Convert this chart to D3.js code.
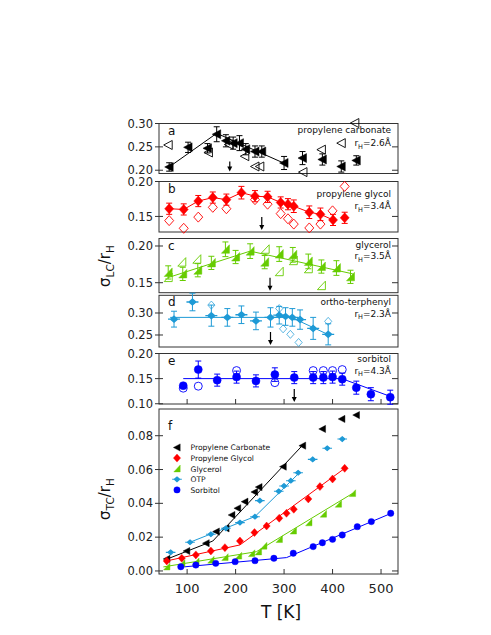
<!DOCTYPE html>
<html>
<head>
<meta charset="utf-8">
<script src="https://cdn.jsdelivr.net/npm/d3@7"></script>
<style>
  body { margin: 0; background: #fff; }
  text { font-family: "DejaVu Sans", sans-serif; }
</style>
</head>
<body>
<script>
// ---- data ----
var xTicks = [100, 200, 300, 400, 500];
var ticksA = [0.20, 0.25, 0.30];
var ticksB = [0.15, 0.20];
var ticksC = [0.15, 0.20];
var ticksD = [0.25, 0.30];
var ticksE = [0.10, 0.15, 0.20];
var ticksF = [0.00, 0.02, 0.04, 0.06, 0.08];

// a: propylene carbonate
var pcT     = [63, 102, 142, 161, 180, 195, 208, 221, 240, 254, 300, 338, 379, 418, 449];
var pcLC    = [0.207, 0.249, 0.247, 0.277, 0.263, 0.258, 0.258, 0.245, 0.240, 0.240, 0.2155, 0.226, 0.223, 0.208, 0.221];
var pcErr   = [0.009, 0.011, 0.010, 0.016, 0.013, 0.013, 0.016, 0.012, 0.012, 0.012, 0.014, 0.014, 0.012, 0.012, 0.010];
var pcOpenT = [61, 144, 186, 219, 240, 250, 339, 377, 418, 446];
var pcOpen  = [0.254, 0.238, 0.255, 0.230, 0.208, 0.208, 0.196, 0.244, 0.258, 0.301];
var pcFitT  = [63, 161, 300];
var pcFit   = [0.207, 0.279, 0.215];

// b: propylene glycol
var pgT     = [63, 93, 123, 153, 181, 212, 240, 266, 293, 308, 320, 352, 375, 401, 425];
var pgLC    = [0.161, 0.160, 0.172, 0.177, 0.174, 0.184, 0.179, 0.178, 0.170, 0.1675, 0.1646, 0.156, 0.153, 0.145, 0.148];
var pgErr   = [0.008, 0.008, 0.008, 0.008, 0.008, 0.009, 0.008, 0.008, 0.008, 0.008, 0.009, 0.009, 0.009, 0.008, 0.008];
var pgOpenT = [63, 93, 123, 153, 181, 240, 266, 293, 308, 320, 352, 375, 400, 425];
var pgOpen  = [0.144, 0.133, 0.149, 0.163, 0.161, 0.174, 0.1675, 0.154, 0.1466, 0.139, 0.1335, 0.139, 0.158, 0.193];
var pgFitT  = [63, 93, 123, 153, 181, 212, 240, 266, 293, 308, 320, 352, 375, 401];
var pgFit   = [0.161, 0.160, 0.172, 0.177, 0.174, 0.184, 0.179, 0.178, 0.170, 0.1675, 0.1646, 0.156, 0.153, 0.145];

// c: glycerol
var glT     = [61, 91, 122, 150, 179, 200, 230, 260, 290, 318, 350, 377, 408, 437];
var glLC    = [0.164, 0.162, 0.167, 0.177, 0.1955, 0.185, 0.193, 0.178, 0.189, 0.188, 0.179, 0.172, 0.170, 0.158];
var glErr   = [0.009, 0.009, 0.009, 0.009, 0.010, 0.009, 0.010, 0.009, 0.010, 0.010, 0.010, 0.009, 0.010, 0.009];
var glOpenT = [61, 89, 120, 261, 290, 319, 350, 377];
var glOpen  = [0.157, 0.178, 0.182, 0.1955, 0.165, 0.180, 0.169, 0.146];
var glFitT  = [61, 230, 442];
var glFit   = [0.157, 0.193, 0.162];

// d: ortho-terphenyl
var otpT     = [73, 111, 150, 183, 212, 242, 272, 290, 303, 317, 333, 360, 391];
var otpLC    = [0.286, 0.325, 0.294, 0.290, 0.296, 0.282, 0.290, 0.295, 0.292, 0.290, 0.285, 0.265, 0.2515];
var otpErr   = [0.018, 0.020, 0.024, 0.020, 0.020, 0.020, 0.022, 0.020, 0.020, 0.020, 0.022, 0.025, 0.024];
var otpOpenT = [150, 290, 298, 313, 330, 391];
var otpOpen  = [0.318, 0.310, 0.264, 0.2515, 0.233, 0.281];
var otpFitT  = [65, 315, 391];
var otpFit   = [0.290, 0.290, 0.251];

// e: sorbitol
var sbT     = [92, 123, 162, 202, 242, 281, 321, 360, 381, 400, 420, 449, 479, 519];
var sbLC    = [0.136, 0.168, 0.147, 0.153, 0.1455, 0.158, 0.152, 0.152, 0.152, 0.153, 0.149, 0.132, 0.119, 0.113];
var sbErr   = [0.004, 0.017, 0.012, 0.012, 0.012, 0.0135, 0.012, 0.012, 0.012, 0.012, 0.012, 0.013, 0.013, 0.014];
var sbOpenT = [92, 123, 202, 281, 360, 381, 400, 420];
var sbOpen  = [0.131, 0.135, 0.166, 0.142, 0.166, 0.166, 0.166, 0.168];
var sbFitT  = [92, 419, 521];
var sbFit   = [0.150, 0.150, 0.114];

// arrows (T) for panels a-e
var arrowT = [188, 254, 271, 272, 321];

// f: sigma_TC / r_H
var tcPcT  = [58, 99, 139, 160, 180, 192, 204, 219, 239, 248, 298, 338, 379, 419, 449];
var tcPc   = [0.0071, 0.0118, 0.0164, 0.0233, 0.0252, 0.0331, 0.0371, 0.0410, 0.0467, 0.0496, 0.0617, 0.0741, 0.0840, 0.0899, 0.0922];
var tcPgT  = [58, 89, 118, 149, 178, 209, 239, 264, 290, 305, 320, 350, 374, 400, 425];
var tcPg   = [0.0059, 0.0075, 0.0095, 0.0118, 0.0138, 0.0177, 0.0227, 0.0266, 0.0312, 0.0341, 0.0365, 0.0426, 0.0499, 0.0544, 0.0607];
var tcGlT  = [58, 89, 118, 149, 178, 206, 233, 247, 258, 290, 319, 351, 381, 412, 441];
var tcGl   = [0.0025, 0.0045, 0.0055, 0.0065, 0.0081, 0.0089, 0.0104, 0.0114, 0.0148, 0.0187, 0.0237, 0.0286, 0.0337, 0.0396, 0.0459];
var tcOtpT = [66, 106, 149, 180, 209, 240, 250, 289, 300, 314, 329, 359, 389, 420];
var tcOtp  = [0.0110, 0.0170, 0.0217, 0.0252, 0.0286, 0.0321, 0.0416, 0.0471, 0.0503, 0.0534, 0.0581, 0.0660, 0.0726, 0.0780];
var tcSbT  = [87, 118, 159, 199, 240, 279, 319, 360, 379, 400, 420, 451, 480, 520];
var tcSb   = [0.0025, 0.0035, 0.0045, 0.0055, 0.0061, 0.0075, 0.0105, 0.0144, 0.0167, 0.0187, 0.0213, 0.0262, 0.0292, 0.0341];

var tcPcFitT  = [54, 153, 338];   var tcPcFit  = [0.0065, 0.0177, 0.0743];
var tcPgFitT  = [54, 209, 427];   var tcPgFit  = [0.0057, 0.0154, 0.0611];
var tcGlFitT  = [51, 243, 442];   var tcGlFit  = [0.0024, 0.0114, 0.0460];
var tcOtpFitT = [106, 240, 333];  var tcOtpFit = [0.0170, 0.0322, 0.0585];
var tcSbFitT  = [85, 305, 521];   var tcSbFit  = [0.0022, 0.0079, 0.0341];

var legendNames = ['Propylene Carbonate', 'Propylene Glycol', 'Glycerol', 'OTP', 'Sorbitol'];

// ---- colours / shapes ----
var cPC = '#000000', cPG = '#ff0000', cGL = '#66cc00', cOTP = '#1e9ad6', cSB = '#0000ff';

var shapes = {
  triL:    'M4,-4.5L-4.5,0L4,4.5Z',
  diamond: 'M0,-5L4.5,0L0,5L-4.5,0Z',
  rtri:    'M4,-4.5L4,4L-4,4Z',
  otp:     'M-6,0L6,0M0,-3L3.5,0L0,3L-3.5,0Z',
  circle:  'M4,0A4,4 0 1,1 -4,0A4,4 0 1,1 4,0Z'
};

var x = d3.scaleLinear().domain([42, 535]).range([159, 398]);
var fmt = d3.format('.2f');

var svg = d3.select('body').append('svg')
  .attr('width', 491)
  .attr('height', 635);

function zip(a, b) {
  return a.map(function(d, i) { return [d, b[i]]; });
}

function drawLine(g, y, ts, vs, color) {
  g.append('path')
   .datum(zip(ts, vs))
   .attr('fill', 'none')
   .attr('stroke', color)
   .attr('stroke-width', 1)
   .attr('d', d3.line().x(function(d) { return x(d[0]); }).y(function(d) { return y(d[1]); }));
}

function drawErr(g, y, ts, vs, es, color) {
  var eg = g.append('g').attr('stroke', color).attr('stroke-width', 1);
  zip(ts, vs).forEach(function(d, i) {
    var cx = x(d[0]), y1 = y(d[1] - es[i]), y2 = y(d[1] + es[i]);
    eg.append('line').attr('x1', cx).attr('x2', cx).attr('y1', y1).attr('y2', y2);
    eg.append('line').attr('x1', cx - 3).attr('x2', cx + 3).attr('y1', y1).attr('y2', y1);
    eg.append('line').attr('x1', cx - 3).attr('x2', cx + 3).attr('y1', y2).attr('y2', y2);
  });
}

function drawMarks(g, y, ts, vs, shape, color, filled, sc) {
  sc = sc || 1;
  g.selectAll(null)
   .data(zip(ts, vs))
   .enter()
   .append('path')
   .attr('transform', function(d) { return 'translate(' + x(d[0]) + ',' + y(d[1]) + ') scale(' + sc + ')'; })
   .attr('d', shapes[shape])
   .attr('fill', filled ? color : 'none')
   .attr('stroke', color)
   .attr('stroke-width', filled ? (shape == 'otp' ? 1.3 : 0.5) : 0.9);
}

// panel layout: frame top/bottom in px, y domain
var panels = [
  { letter: 'a', top: 123.5, bottom: 173.5, dom: [0.193, 0.30],    ticks: ticksA, name: 'propylene carbonate', rh: '=2.6Å', n1: 9.5,  n2: 22.5 },
  { letter: 'b', top: 181.5, bottom: 232,   dom: [0.1277, 0.20],   ticks: ticksB, name: 'propylene glycol',    rh: '=3.4Å', n1: 15.5, n2: 27.5 },
  { letter: 'c', top: 238.5, bottom: 292.7, dom: [0.1364, 0.2102], ticks: ticksC, name: 'glycerol',            rh: '=3.5Å', n1: 9,    n2: 20.5 },
  { letter: 'd', top: 295.3, bottom: 347,   dom: [0.2227, 0.3402], ticks: ticksD, name: 'ortho-terphenyl',     rh: '=2.3Å', n1: 10,   n2: 21.5 },
  { letter: 'e', top: 353.5, bottom: 404,   dom: [0.0995, 0.20],   ticks: ticksE, name: 'sorbitol',            rh: '=4.3Å', n1: 8.5,  n2: 20 },
  { letter: 'f', top: 409,   bottom: 574,   dom: [-0.0018, 0.0958], ticks: ticksF }
];

panels.forEach(function(p, pi) {
  var y = d3.scaleLinear().domain(p.dom).range([p.bottom, p.top]);
  p.y = y;
  var g = svg.append('g');
  p.g = g;

  // frame
  g.append('rect')
   .attr('x', 159).attr('y', p.top)
   .attr('width', 398 - 159).attr('height', p.bottom - p.top)
   .attr('fill', 'none').attr('stroke', '#333').attr('stroke-width', 1);

  // y ticks left (crossing) + mirror right (inside)
  p.ticks.forEach(function(t) {
    var ty = y(t);
    g.append('line').attr('x1', 155).attr('x2', 163).attr('y1', ty).attr('y2', ty).attr('stroke', '#333');
    g.append('line').attr('x1', 392).attr('x2', 398).attr('y1', ty).attr('y2', ty).attr('stroke', '#333');
    g.append('text')
     .attr('x', 153).attr('y', ty).attr('dy', '0.36em')
     .attr('text-anchor', 'end')
     .attr('font-size', 11.5).attr('fill', '#222')
     .text(fmt(t));
  });

  // x ticks on e and f bottoms
  if (pi >= 4) {
    xTicks.forEach(function(t) {
      g.append('line').attr('x1', x(t)).attr('x2', x(t))
       .attr('y1', p.bottom).attr('y2', p.bottom - 5).attr('stroke', '#333');
    });
  }

  // panel letter
  g.append('text')
   .attr('x', 168).attr('y', p.top + (pi == 5 ? 21 : 11) )
   .attr('font-size', 12).attr('fill', '#111')
   .text(p.letter);

  if (p.name) {
    g.append('text')
     .attr('x', 391).attr('y', p.top + p.n1)
     .attr('text-anchor', 'end').attr('font-size', 9).attr('fill', '#111')
     .text(p.name);
    var rt = g.append('text')
     .attr('x', 391).attr('y', p.top + p.n2)
     .attr('text-anchor', 'end').attr('font-size', 9).attr('fill', '#111');
    rt.append('tspan').text('r');
    rt.append('tspan').attr('dy', 2.5).attr('font-size', 6.5).text('H');
    rt.append('tspan').attr('dy', -2.5).text(p.rh);

    // arrow
    var ax = x(arrowT[pi]);
    var ay2 = p.bottom - 2, ay1 = p.bottom - (pi == 0 ? 12 : 15);
    g.append('line').attr('x1', ax).attr('x2', ax).attr('y1', ay1).attr('y2', ay2 - 3)
     .attr('stroke', '#000').attr('stroke-width', 1.2);
    g.append('path')
     .attr('d', 'M' + (ax - 2.5) + ',' + (ay2 - 5) + 'L' + (ax + 2.5) + ',' + (ay2 - 5) + 'L' + ax + ',' + ay2 + 'Z')
     .attr('fill', '#000');
  }
});

// panel a
(function() {
  var p = panels[0];
  drawMarks(p.g, p.y, pcOpenT, pcOpen, 'triL', cPC, false);
  drawLine(p.g, p.y, pcFitT, pcFit, cPC);
  drawErr(p.g, p.y, pcT, pcLC, pcErr, cPC);
  drawMarks(p.g, p.y, pcT, pcLC, 'triL', cPC, true);
})();

// panel b
(function() {
  var p = panels[1];
  drawMarks(p.g, p.y, pgOpenT, pgOpen, 'diamond', cPG, false);
  drawLine(p.g, p.y, pgFitT, pgFit, cPG);
  drawErr(p.g, p.y, pgT, pgLC, pgErr, cPG);
  drawMarks(p.g, p.y, pgT, pgLC, 'diamond', cPG, true);
})();

// panel c
(function() {
  var p = panels[2];
  drawMarks(p.g, p.y, glOpenT, glOpen, 'rtri', cGL, false);
  drawLine(p.g, p.y, glFitT, glFit, cGL);
  drawErr(p.g, p.y, glT, glLC, glErr, cGL);
  drawMarks(p.g, p.y, glT, glLC, 'rtri', cGL, true);
})();

// panel d
(function() {
  var p = panels[3];
  drawMarks(p.g, p.y, otpOpenT, otpOpen, 'diamond', cOTP, false, 0.8);
  drawLine(p.g, p.y, otpFitT, otpFit, cOTP);
  drawErr(p.g, p.y, otpT, otpLC, otpErr, cOTP);
  drawMarks(p.g, p.y, otpT, otpLC, 'otp', cOTP, true);
})();

// panel e
(function() {
  var p = panels[4];
  drawMarks(p.g, p.y, sbOpenT, sbOpen, 'circle', cSB, false);
  drawLine(p.g, p.y, sbFitT, sbFit, cSB);
  drawErr(p.g, p.y, sbT, sbLC, sbErr, cSB);
  drawMarks(p.g, p.y, sbT, sbLC, 'circle', cSB, true);
})();

// panel f
(function() {
  var p = panels[5];
  var fy = p.y, s = 0.8;
  drawLine(p.g, fy, tcPcFitT, tcPcFit, cPC);
  drawLine(p.g, fy, tcPgFitT, tcPgFit, cPG);
  drawLine(p.g, fy, tcGlFitT, tcGlFit, cGL);
  drawLine(p.g, fy, tcOtpFitT, tcOtpFit, cOTP);
  drawLine(p.g, fy, tcSbFitT, tcSbFit, cSB);
  drawMarks(p.g, fy, tcPcT, tcPc, 'triL', cPC, true, s);
  drawMarks(p.g, fy, tcPgT, tcPg, 'diamond', cPG, true, s);
  drawMarks(p.g, fy, tcGlT, tcGl, 'rtri', cGL, true, s);
  drawMarks(p.g, fy, tcOtpT, tcOtp, 'otp', cOTP, true, s);
  drawMarks(p.g, fy, tcSbT, tcSb, 'circle', cSB, true, s);

  var legShapes = ['triL', 'diamond', 'rtri', 'otp', 'circle'];
  var legColors = [cPC, cPG, cGL, cOTP, cSB];
  var leg = p.g.append('g');
  legendNames.forEach(function(nm, i) {
    var ly = 447.5 + i * 10.6;
    leg.append('path')
       .attr('transform', 'translate(177,' + ly + ') scale(0.8)')
       .attr('d', shapes[legShapes[i]])
       .attr('fill', legColors[i])
       .attr('stroke', legColors[i])
       .attr('stroke-width', legShapes[i] == 'otp' ? 1.3 : 0.5);
    leg.append('text')
       .attr('x', 190.5).attr('y', ly + 2.8)
       .attr('font-size', 7.6).attr('fill', '#111')
       .text(nm);
  });
})();

// x tick labels and axis title
xTicks.forEach(function(t) {
  svg.append('text')
     .attr('x', x(t)).attr('y', 593)
     .attr('text-anchor', 'middle').attr('font-size', 13).attr('fill', '#222')
     .text(t);
});
svg.append('text')
   .attr('x', 281).attr('y', 618)
   .attr('text-anchor', 'middle').attr('font-size', 17).attr('fill', '#111')
   .text('T [K]');

// y titles
function yTitle(cy, sub) {
  var t = svg.append('text')
     .attr('transform', 'translate(110,' + cy + ') rotate(-90)')
     .attr('text-anchor', 'middle').attr('font-size', 15).attr('fill', '#111');
  t.append('tspan').text('σ');
  t.append('tspan').attr('dy', 4).attr('font-size', 10.5).text(sub);
  t.append('tspan').attr('dy', -4).text('/r');
  t.append('tspan').attr('dy', 4).attr('font-size', 10.5).text('H');
}
yTitle(266, 'LC');
yTitle(499, 'TC');
</script>
</body>
</html>
